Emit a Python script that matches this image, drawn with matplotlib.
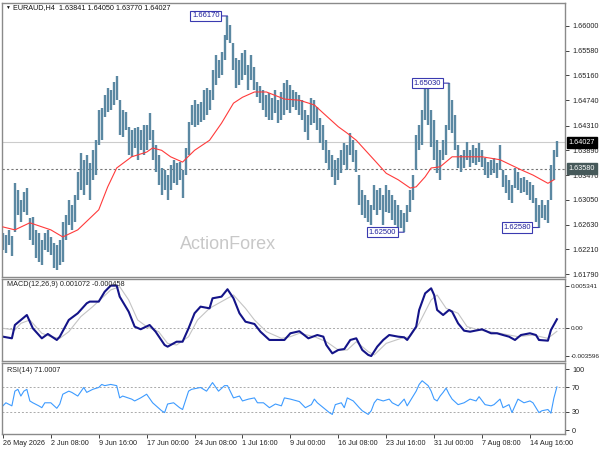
import matplotlib
matplotlib.use("Agg")
import matplotlib.pyplot as plt
import matplotlib.transforms as mtrans

plt.rcParams['font.family'] = ['Liberation Sans', 'DejaVu Sans']

# EURAUD H4 (every second bar)
highs = [1.6249, 1.6245, 1.6254, 1.6244, 1.6333, 1.6322, 1.6305, 1.6318, 1.6325, 1.6274,
         1.6276, 1.6254, 1.6249, 1.6237, 1.6249, 1.6254, 1.6242, 1.6232, 1.6228, 1.6237,
         1.6267, 1.6279, 1.6305, 1.6296, 1.6313, 1.6352, 1.6384, 1.6373, 1.6381, 1.6367,
         1.6389, 1.6406, 1.6457, 1.6461, 1.6483, 1.6495, 1.6491, 1.6505, 1.6515, 1.6474,
         1.6457, 1.6454, 1.6429, 1.6423, 1.6427, 1.6429, 1.6423, 1.6432,
         1.6432, 1.6452, 1.6423, 1.6398, 1.6381, 1.6359, 1.6356, 1.6347, 1.6364, 1.6373,
         1.6367, 1.6369, 1.6356, 1.6393, 1.6437, 1.6466, 1.6474, 1.6468, 1.6471, 1.6491,
         1.6495, 1.6491, 1.6525, 1.6551, 1.6542, 1.6556, 1.6585, 1.6617, 1.6602, 1.6571,
         1.6546, 1.6542, 1.6554, 1.6559, 1.6534, 1.6551, 1.6530, 1.6505, 1.6498, 1.6491,
         1.6483, 1.6486, 1.6478, 1.6491, 1.6474, 1.6488, 1.6503,
         1.6508, 1.6500, 1.6491, 1.6488, 1.6483, 1.6474, 1.6457, 1.6449, 1.6478, 1.6474,
         1.6462, 1.6444, 1.6432, 1.6406, 1.6389, 1.6381, 1.6373, 1.6376, 1.6389, 1.6401,
         1.6398, 1.6418, 1.6406, 1.6389, 1.6347, 1.6322, 1.6313, 1.6305, 1.6296, 1.6330,
         1.6322, 1.6325, 1.6313, 1.6330, 1.6322, 1.6313, 1.6305, 1.6296, 1.6288, 1.6283,
         1.6296, 1.6322, 1.6347, 1.6415, 1.6432, 1.6457, 1.6500,
         1.6495, 1.6457, 1.6440, 1.6406, 1.6389, 1.6406, 1.6432, 1.6503, 1.6474, 1.6449,
         1.6398, 1.6381, 1.6389, 1.6403, 1.6389, 1.6398, 1.6393, 1.6401, 1.6389, 1.6376,
         1.6369, 1.6373, 1.6376, 1.6367, 1.6398, 1.6356, 1.6347, 1.6339, 1.6330, 1.6359,
         1.6352, 1.6342, 1.6344, 1.6339, 1.6335, 1.6330, 1.6308, 1.6296, 1.6305, 1.6296,
         1.6305, 1.6364, 1.6389, 1.6405]
lows = [1.6220, 1.6215, 1.6228, 1.6210, 1.6250, 1.6279, 1.6267, 1.6284, 1.6279, 1.6237,
        1.6228, 1.6206, 1.6199, 1.6194, 1.6220, 1.6216, 1.6211, 1.6189, 1.6186, 1.6194,
        1.6199, 1.6237, 1.6262, 1.6254, 1.6267, 1.6305, 1.6322, 1.6313, 1.6330, 1.6305,
        1.6339, 1.6347, 1.6398, 1.6406, 1.6446, 1.6454, 1.6457, 1.6466, 1.6474, 1.6415,
        1.6412, 1.6423, 1.6381, 1.6378, 1.6393, 1.6373, 1.6389, 1.6381,
        1.6389, 1.6406, 1.6373, 1.6352, 1.6330, 1.6313, 1.6322, 1.6305, 1.6322, 1.6333,
        1.6330, 1.6339, 1.6308, 1.6347, 1.6381, 1.6432, 1.6429, 1.6432, 1.6437, 1.6440,
        1.6449, 1.6457, 1.6474, 1.6500, 1.6512, 1.6517, 1.6542, 1.6576, 1.6571, 1.6525,
        1.6495, 1.6500, 1.6508, 1.6517, 1.6491, 1.6508, 1.6491, 1.6479, 1.6469, 1.6457,
        1.6446, 1.6440, 1.6440, 1.6452, 1.6435, 1.6440, 1.6449,
        1.6457, 1.6452, 1.6462, 1.6457, 1.6449, 1.6440, 1.6420, 1.6406, 1.6432, 1.6435,
        1.6423, 1.6401, 1.6389, 1.6367, 1.6356, 1.6344, 1.6330, 1.6339, 1.6350, 1.6364,
        1.6356, 1.6381, 1.6369, 1.6352, 1.6296, 1.6279, 1.6274, 1.6267, 1.6262, 1.6288,
        1.6279, 1.6288, 1.6262, 1.6284, 1.6283, 1.6271, 1.6262, 1.6257, 1.6257, 1.6250,
        1.6267, 1.6284, 1.6305, 1.6356, 1.6389, 1.6398, 1.6440,
        1.6432, 1.6395, 1.6373, 1.6350, 1.6339, 1.6373, 1.6381, 1.6423, 1.6418, 1.6389,
        1.6359, 1.6352, 1.6359, 1.6373, 1.6361, 1.6367, 1.6364, 1.6369, 1.6361, 1.6347,
        1.6342, 1.6347, 1.6350, 1.6342, 1.6356, 1.6327, 1.6317, 1.6305, 1.6300, 1.6325,
        1.6322, 1.6317, 1.6318, 1.6313, 1.6305, 1.6300, 1.6267, 1.6258, 1.6274, 1.6271,
        1.6266, 1.6305, 1.6339, 1.6377]

# moving average (red line), read at some bars
ma_idx = [0, 4, 9, 16, 20, 25, 32, 35, 38, 43, 48, 50, 53, 56, 60, 64, 69, 73, 77, 80,
          84, 88, 94, 99, 104, 107, 112, 115, 118, 125, 128, 132, 136, 138, 141, 143, 146,
          150, 160, 166, 173, 177, 182, 184]
ma_val = [1.6259, 1.6254, 1.6266, 1.6254, 1.6242, 1.6254, 1.6288, 1.6327, 1.6359, 1.6378,
          1.6386, 1.6393, 1.6389, 1.6378, 1.6369, 1.6389, 1.6406, 1.6435, 1.6469, 1.6479,
          1.6488, 1.6488, 1.6476, 1.6474, 1.6466, 1.6452, 1.6429, 1.6418, 1.6406, 1.6367,
          1.6350, 1.6339, 1.6325, 1.6327, 1.6344, 1.6359, 1.6361, 1.6378, 1.6378, 1.6373,
          1.6356, 1.6347, 1.6333, 1.6339]

macd_idx = [0, 3, 4, 8, 10, 13, 15, 18, 19, 22, 25, 28, 29, 32, 34, 36, 38, 39, 42, 44,
            46, 49, 51, 54, 55, 58, 60, 62, 64, 66, 69, 70, 73, 75, 77, 79, 81, 84, 86, 89,
            92, 94, 96, 99, 102, 105, 107, 108, 110, 112, 114, 116, 118, 120, 122, 123, 125,
            127, 129, 132, 134, 135, 138, 139, 141, 143, 144, 145, 147, 149, 150, 152, 154,
            156, 160, 163, 165, 167, 169, 171, 173, 176, 178, 179, 182, 183, 185]
macd_val = [-0.00114, -0.00135, 0.00034, 0.00161, -0.00008, -0.00135, -0.00080, -0.00156,
            -0.00114, 0.00098, 0.00183, 0.00310, 0.00331, 0.00331, 0.00457, 0.00534, 0.00534,
            0.00394, 0.00203, 0.00013, -0.00020, 0.00034, -0.00051, -0.00220, -0.00241,
            -0.00178, -0.00178, -0.00008, 0.00183, 0.00267, 0.00246, 0.00373, 0.00394,
            0.00488, 0.00373, 0.00183, 0.00076, 0.00047, -0.00051, -0.00156, -0.00156,
            -0.00156, -0.00071, -0.00045, -0.00135, -0.00093, -0.00114, -0.00220, -0.00326,
            -0.00283, -0.00271, -0.00156, -0.00135, -0.00283, -0.00346, -0.00360, -0.00241,
            -0.00156, -0.00093, -0.00114, -0.00122, -0.00156, 0.00013, 0.00225, 0.00436,
            0.00500, 0.00415, 0.00225, 0.00161, 0.00225, 0.00203, 0.00055, -0.00038,
            -0.00051, -0.00021, -0.00071, -0.00071, -0.00093, -0.00114, -0.00156, -0.00093,
            -0.00071, -0.00093, -0.00156, -0.00165, -0.00030, 0.00107]

sig_idx = [0, 4, 6, 9, 13, 16, 19, 22, 26, 30, 36, 39, 42, 45, 48, 52, 55, 58, 62, 65,
           69, 73, 77, 81, 84, 88, 93, 96, 99, 104, 108, 112, 115, 118, 122, 124, 128, 133,
           136, 139, 143, 145, 148, 152, 155, 159, 166, 172, 177, 182, 185]
sig_val = [-0.00008, -0.00030, 0.00055, 0.00098, -0.00071, -0.00114, -0.00135, -0.00051,
           0.00140, 0.00267, 0.00479, 0.00521, 0.00352, 0.00098, 0.00013, -0.00051,
           -0.00199, -0.00220, -0.00114, 0.00098, 0.00246, 0.00331, 0.00415, 0.00246,
           0.00098, -0.00051, -0.00135, -0.00114, -0.00071, -0.00114, -0.00178, -0.00283,
           -0.00283, -0.00178, -0.00304, -0.00346, -0.00199, -0.00135, -0.00114, 0.00055,
           0.00352, 0.00415, 0.00246, 0.00183, 0.00013, -0.00030, -0.00071, -0.00114,
           -0.00093, -0.00135, -0.00046]

rsi_idx = [0, 1, 3, 4, 5, 6, 7, 8, 9, 10, 12, 13, 14, 16, 18, 19, 20, 22, 23, 25, 27, 28,
           30, 32, 33, 34, 36, 38, 39, 40, 43, 44, 46, 48, 50, 53, 54, 55, 57, 59, 60, 62,
           63, 66, 68, 70, 72, 74, 75, 77, 79, 80, 82, 84, 85, 87, 89, 91, 93, 94, 96, 99,
           101, 103, 104, 105, 107, 109, 110, 111, 113, 114, 115, 117, 119, 120, 122, 123,
           124, 125, 127, 129, 130, 132, 134, 135, 137, 138, 139, 140, 142, 143, 144, 145,
           146, 147, 148, 149, 150, 152, 154, 156, 158, 159, 161, 163, 164, 166, 167, 169,
           170, 172, 174, 176, 177, 179, 180, 182, 183, 184, 185]
rsi_val = [40, 45, 40, 64, 67, 56, 64, 67, 48, 45, 40, 37, 45, 45, 36, 43, 59, 64, 62, 56,
           70, 62, 67, 70, 75, 73, 75, 73, 53, 56, 51, 48, 53, 59, 45, 32, 29, 43, 45, 37,
           34, 64, 67, 70, 64, 78, 64, 73, 73, 53, 56, 48, 51, 53, 45, 45, 37, 43, 40, 53,
           51, 47, 37, 42, 51, 45, 37, 29, 26, 42, 45, 37, 53, 48, 37, 32, 26, 32, 45, 51,
           48, 51, 45, 40, 51, 40, 56, 64, 75, 81, 73, 64, 51, 48, 56, 62, 69, 59, 51, 42,
           45, 51, 48, 55, 42, 40, 42, 51, 37, 42, 29, 51, 45, 48, 45, 29, 32, 34, 28, 53,
           71.0007]

date_idx = [0, 16, 32, 48, 64, 80, 96, 112, 128, 144, 160, 176]
date_labels = ["26 May 2026", "2 Jun 08:00", "9 Jun 16:00", "17 Jun 00:00", "24 Jun 08:00",
               "1 Jul 16:00", "9 Jul 00:00", "16 Jul 08:00", "23 Jul 16:00", "31 Jul 00:00",
               "7 Aug 08:00", "14 Aug 16:00"]
price_ticks = [1.66000, 1.65580, 1.65160, 1.64740, 1.64310, 1.63890, 1.63470, 1.63050,
               1.62630, 1.62210, 1.61790]
last_price = 1.64027
level = 1.63580
swing_idx = [75, 149, 134, 179]
swing_val = [1.66170, 1.65030, 1.62500, 1.62580]

bar_color = '#5b88a2'
frame = '#8a8a8a'
fs = 5.2

fig = plt.figure(figsize=(6, 4.5), dpi=100)
ax1 = fig.add_axes([2/600, 1-277/450, 563/600, 274/450])
ax2 = fig.add_axes([2/600, 1-361/450, 563/600, 82/450], sharex=ax1)
ax3 = fig.add_axes([2/600, 1-434/450, 563/600, 71/450], sharex=ax1)

for ax in (ax1, ax2, ax3):
    for s in ax.spines.values():
        s.set_color(frame)
        s.set_linewidth(1.0)
    ax.yaxis.tick_right()
    ax.tick_params(axis='y', direction='out', length=3, width=0.6, colors='#222222',
                   labelsize=fs, pad=2)
    ax.tick_params(axis='x', bottom=False, labelbottom=False)

idx = list(range(len(highs)))
ax1.axhline(last_price, color='#cccccc', lw=0.8, zorder=1)
ax1.axhline(level, color='#777777', lw=0.8, ls=(0, (2, 2)), zorder=1)
ax1.vlines(idx, lows, highs, color=bar_color, lw=1.7, zorder=2)
ax1.plot(ma_idx, ma_val, color='#ff3b3b', lw=0.8, zorder=3)
ax1.set_xlim(-0.3, 187.7)
ax1.set_ylim(1.6174, 1.6639)
ax1.set_yticks(price_ticks)
ax1.set_yticklabels(['%.5f' % p for p in price_ticks])

for i, v in zip(swing_idx, swing_val):
    ax1.annotate('%.5f' % v, xy=(i, v), xytext=(-8, 0), textcoords='offset pixels',
                 ha='right', va='center', fontsize=5.5, color='#20209a',
                 bbox=dict(boxstyle='square,pad=0.2', fc='white', ec='#3a3ab0', lw=0.8),
                 arrowprops=dict(arrowstyle='-', color='#3a3ab0', lw=0.8,
                                 shrinkA=0, shrinkB=0), zorder=5)

tr = mtrans.blended_transform_factory(ax1.transAxes, ax1.transData)
ax1.text(1.006, last_price, '%.5f' % last_price, transform=tr, ha='left', va='center',
         fontsize=fs, color='white', clip_on=False,
         bbox=dict(boxstyle='square,pad=0.25', fc='black', ec='black'))
ax1.text(1.006, level, '%.5f' % level, transform=tr, ha='left', va='center',
         fontsize=fs, color='white', clip_on=False,
         bbox=dict(boxstyle='square,pad=0.25', fc='#46595a', ec='#46595a'))

fig.text(5/600, 1-7.5/450, '▼', fontsize=3.5, va='center', ha='left', color='#111111')
fig.text(13/600, 1-7.5/450, 'EURAUD,H4  1.63841 1.64050 1.63770 1.64027', fontsize=fs,
         va='center', ha='left', color='#111111')
fig.text(228/600, 1-245/450, 'ActionForex', fontsize=13, color='#c8c8c8',
         ha='center', va='center')

# MACD
ax2.axhline(0, color='#aaaaaa', lw=0.7, ls=(0, (2, 2)))
ax2.plot(sig_idx, sig_val, color='#c4c4c4', lw=0.8)
ax2.plot(macd_idx, macd_val, color='#141488', lw=1.5)
ax2.set_ylim(-0.00423, 0.00618)
ax2.set_yticks([0.005341, 0.0, -0.003596])
ax2.set_yticklabels(['0.005341', '0.00', '-0.003596'])
ax2.tick_params(axis='y', labelsize=4.6, pad=1.2)
ax2.text(5/563, 1-6/82, 'MACD(12,26,9) 0.001072 -0.000458', transform=ax2.transAxes,
         fontsize=fs, va='center', ha='left', color='#222222')

# RSI
ax3.axhline(70, color='#aaaaaa', lw=0.7, ls=(0, (2, 2)))
ax3.axhline(30, color='#aaaaaa', lw=0.7, ls=(0, (2, 2)))
ax3.plot(rsi_idx, rsi_val, color='#3d9bff', lw=0.8)
ax3.set_ylim(-6, 110)
ax3.set_yticks([100, 70, 30, 0])
ax3.set_yticklabels(['100', '70', '30', '0'])
ax3.text(5/563, 1-7/71, 'RSI(14) 71.0007', transform=ax3.transAxes,
         fontsize=fs, va='center', ha='left', color='#222222')

ax3.tick_params(axis='x', bottom=True, labelbottom=True, direction='out', length=3,
                width=0.6, colors='#222222', labelsize=fs, pad=1.5)
ax3.set_xticks(date_idx)
ax3.set_xticklabels(date_labels, ha='left')

fig.savefig('out.png', dpi=100, facecolor='white')
